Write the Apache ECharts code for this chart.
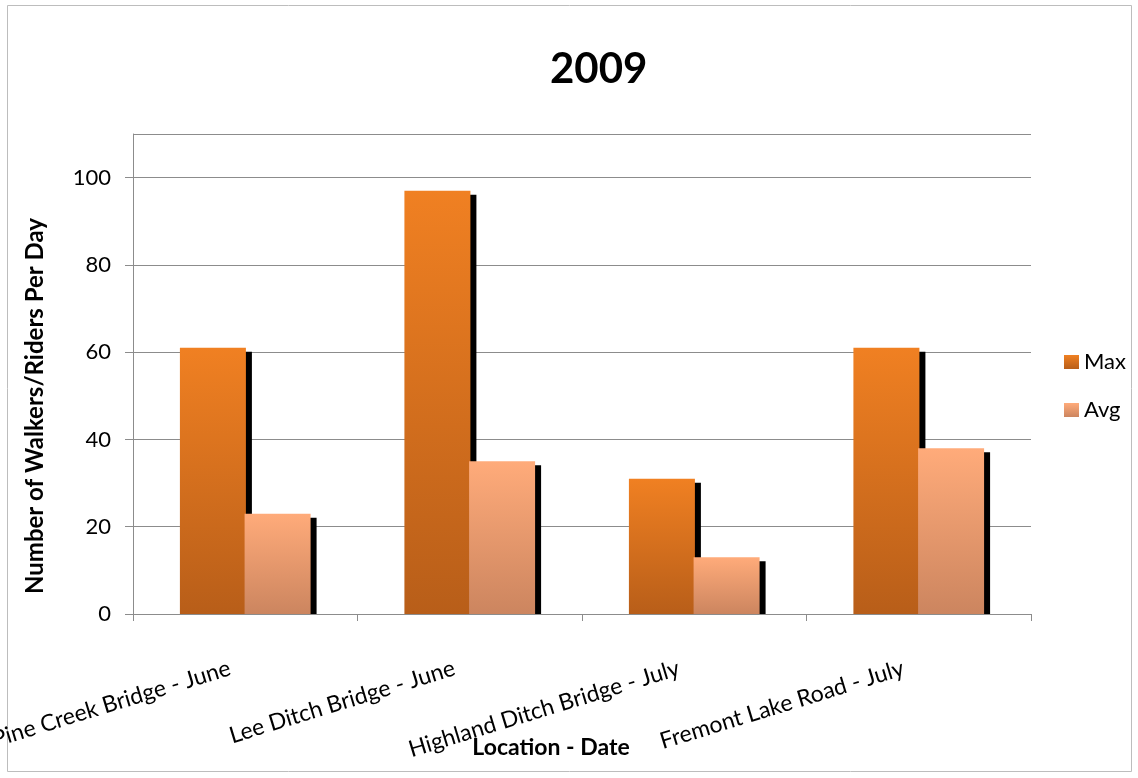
<!DOCTYPE html>
<html>
<head>
<meta charset="utf-8">
<script src="https://cdn.jsdelivr.net/npm/echarts@6/dist/echarts.min.js"></script>
<style>
  html, body { margin: 0; padding: 0; background: #fff; }
  #chart { width: 1138px; height: 778px; }
</style>
</head>
<body>
<div id="chart"></div>
<script>
// Trail counts, 2009
const categories = [
  'Pine Creek Bridge - June',
  'Lee Ditch Bridge - June',
  'Highland Ditch Bridge - July',
  'Fremont Lake Road - July'
];
const maxValues = [61, 97, 31, 61];
const avgValues = [23, 35, 13, 38];
const seriesNames = ['Max', 'Avg'];

const FONT = 'Lato, "Open Sans", sans-serif';

function grad(top, bottom) {
  return new echarts.graphic.LinearGradient(0, 0, 0, 1, [
    { offset: 0, color: top },
    { offset: 1, color: bottom }
  ]);
}

// hard drop shadow to the lower right of every bar
const barShadow = {
  shadowColor: '#000',
  shadowBlur: 0,
  shadowOffsetX: 6,
  shadowOffsetY: 4
};

const chart = echarts.init(document.getElementById('chart'), null, { renderer: 'canvas' });

chart.setOption({
  animation: false,
  backgroundColor: '#fff',
  textStyle: { fontFamily: FONT },
  title: {
    text: '2009',
    left: 545,
    top: 43,
    textStyle: { fontSize: 42, fontWeight: 'bold', color: '#000', fontFamily: FONT }
  },
  graphic: {
    z: 5,
    elements: [
      {
        type: 'rect',
        shape: { x: 7.5, y: 5.5, width: 1124, height: 766 },
        style: { fill: 'none', stroke: '#bdbdbd', lineWidth: 1 },
        silent: true,
        z: -10
      },
      {
        // keeps the bar shadows from spilling under the category axis
        type: 'rect',
        shape: { x: 134, y: 615, width: 898, height: 6 },
        style: { fill: '#fff' },
        silent: true,
        z: 5
      }
    ]
  },
  legend: {
    orient: 'vertical',
    left: 1059,
    top: 346,
    itemWidth: 15,
    itemHeight: 14,
    itemGap: 26,
    icon: 'rect',
    textStyle: { fontSize: 22, color: '#000', fontFamily: FONT, padding: [0, 0, 0, 0] },
    data: seriesNames
  },
  grid: { left: 133, right: 107, top: 134, bottom: 164, containLabel: false, outerBoundsMode: 'none' },
  xAxis: {
    type: 'category',
    z: 10,
    data: categories,
    boundaryGap: true,
    axisLine: { lineStyle: { color: '#8c8c8c', width: 1 } },
    axisTick: { show: true, length: 7, lineStyle: { color: '#8c8c8c' } },
    axisLabel: {
      interval: 0,
      rotate: 17,
      margin: 49,
      color: '#000',
      fontSize: 23,
      fontFamily: FONT,
      formatter: v => '{l|' + v + '}',
      rich: { l: { fontSize: 23, fontFamily: FONT, color: '#000', padding: [0, 16, 0, 0] } }
    },
    name: 'Location - Date',
    nameLocation: 'middle',
    nameGap: 122,
    nameMoveOverlap: false,
    nameTextStyle: { fontSize: 23, fontWeight: 'bold', color: '#000', fontFamily: FONT, padding: [0, 62, 0, 0] }
  },
  yAxis: {
    type: 'value',
    min: 0,
    max: 110,
    interval: 20,
    axisLine: { show: true, lineStyle: { color: '#8c8c8c' } },
    axisTick: { show: true, length: 8, lineStyle: { color: '#8c8c8c' } },
    axisLabel: { color: '#000', fontSize: 22, fontFamily: FONT, margin: 22, showMaxLabel: false },
    splitLine: { lineStyle: { color: '#8c8c8c', width: 1 } },
    name: 'Number of Walkers/Riders Per Day',
    nameLocation: 'middle',
    nameGap: 86,
    nameRotate: 90,
    nameMoveOverlap: false,
    nameTextStyle: { fontSize: 24, fontWeight: 'bold', color: '#000', fontFamily: FONT, padding: [0, 64, 0, 0] }
  },
  series: [
    {
      name: seriesNames[0],
      type: 'bar',
      data: maxValues,
      barWidth: 66,
      barGap: '-2%',
      itemStyle: Object.assign({ color: grad('#f08022', '#b85e19') }, barShadow)
    },
    {
      name: seriesNames[1],
      type: 'bar',
      data: avgValues,
      barWidth: 66,
      itemStyle: Object.assign({ color: grad('#ffab7a', '#cc855f') }, barShadow)
    }
  ]
});
</script>
</body>
</html>
